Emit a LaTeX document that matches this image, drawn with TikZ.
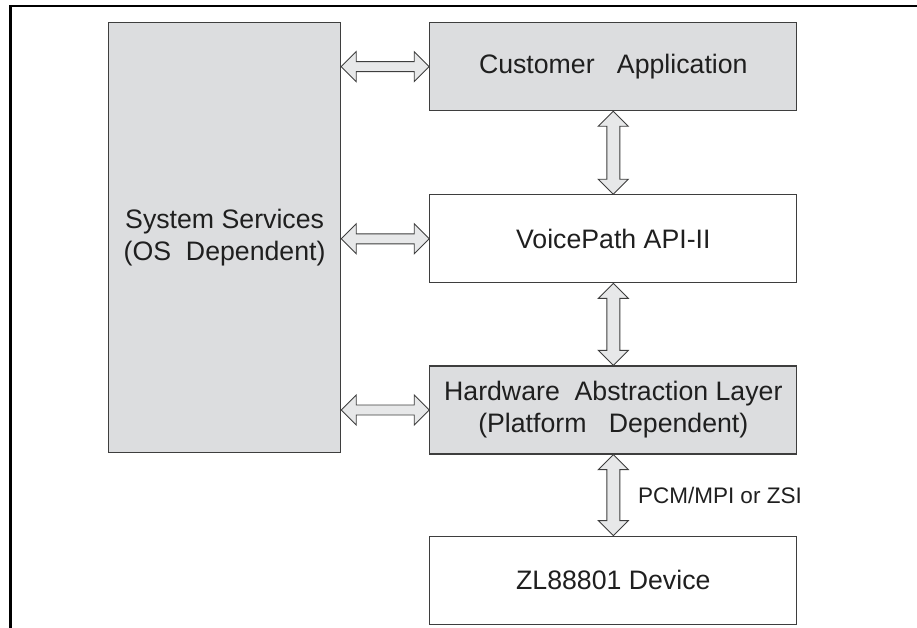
\documentclass[tikz,border=0pt]{standalone}
\usepackage{fontspec}
\setmainfont{Liberation Sans}
\usetikzlibrary{positioning,calc}

\definecolor{layergray}{RGB}{220,221,223}
\definecolor{pipegray}{RGB}{231,232,233}
\definecolor{edgegray}{RGB}{62,62,62}

% hollow two-way arrow between two points, #1 = half shaft width
\newcommand{\twoway}[3][5pt]{%
  \path[pipe] let \p1=(#2), \p2=(#3), \n1={veclen(\x2-\x1,\y2-\y1)}, \n2={atan2(\y2-\y1,\x2-\x1)} in
    [shift={(\p1)}, rotate=\n2]
    (0,0) -- (15pt,15pt) -- (15pt,#1) -- ({\n1*1pt-15pt},#1) -- ({\n1*1pt-15pt},15pt) -- ({\n1*1pt},0)
    -- ({\n1*1pt-15pt},-15pt) -- ({\n1*1pt-15pt},-#1) -- (15pt,-#1) -- (15pt,-15pt) -- cycle;}

\begin{document}
\begin{tikzpicture}[
        layerbox/.style={rectangle, draw=edgegray, line width=1.2pt, minimum width=367pt, minimum height=88pt, inner sep=0pt, align=center, text=black!88, font=\fontsize{26.7}{32}\selectfont},
        pipe/.style={draw=edgegray, fill=pipegray, line width=0.9pt, line join=miter},
        framerule/.style={draw=black, line width=2.6pt}
    ]
        \useasboundingbox (0,0) rectangle (917pt,-627pt);
        \draw[framerule] (10.5pt,-630pt) |- (920pt,-6pt);

        % Nodes
        \node[layerbox, fill=layergray, minimum width=232pt, minimum height=430pt, anchor=north west] (sys) at (108pt,-22pt) {System Services\\(OS\ \ Dependent)};
        \node[layerbox, fill=layergray, right=88pt of sys.north east, anchor=north west] (app) {Customer\ \ \ Application};
        \node[layerbox, below=83pt of app] (voice) {VoicePath API-II};
        \node[layerbox, fill=layergray, below=82pt of voice] (hal) {Hardware\ \ Abstraction Layer\\(Platform\ \ \ Dependent)};
        \node[layerbox, below=81pt of hal] (dev) {ZL88801 Device};

        % Paths
        \twoway{sys.east |- app.west}{app.west}
        \twoway{sys.east |- voice.west}{voice.west}
        \twoway{sys.east |- hal.west}{hal.west}
        \twoway[6.5pt]{app.south}{voice.north}
        \twoway[6.5pt]{voice.south}{hal.north}
        \twoway[6.5pt]{hal.south}{dev.north}
        \node[anchor=west, inner sep=0pt, xshift=24.5pt, text=black!88, font=\fontsize{22.5}{27}\selectfont] (bus) at ($(hal.south)!0.5!(dev.north)$) {PCM/MPI or ZSI};
    \end{tikzpicture}
\end{document}
